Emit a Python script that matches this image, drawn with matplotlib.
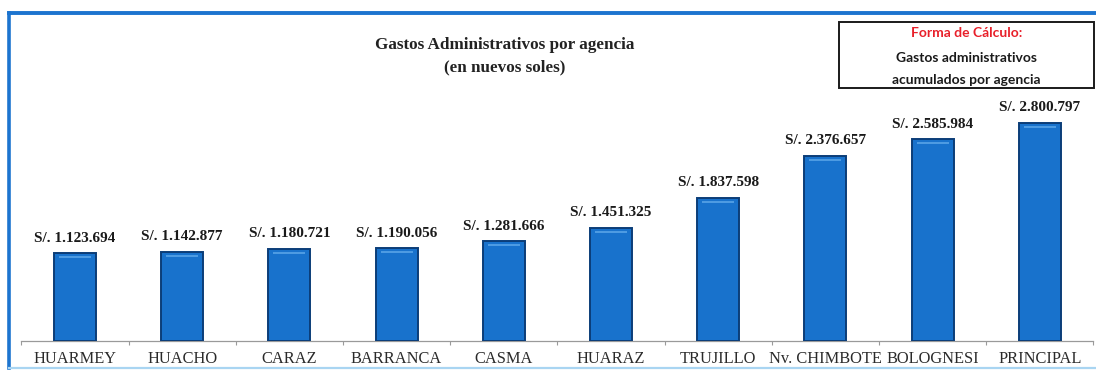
import matplotlib
matplotlib.use("Agg")
import matplotlib.pyplot as plt
import matplotlib.transforms as mtransforms
import numpy as np
from matplotlib.patches import Rectangle
from matplotlib.lines import Line2D

agencias = ["HUARMEY", "HUACHO", "CARAZ", "BARRANCA", "CASMA",
            "HUARAZ", "TRUJILLO", "Nv. CHIMBOTE", "BOLOGNESI", "PRINCIPAL"]
gastos = [1123694, 1142877, 1180721, 1190056, 1281666,
          1451325, 1837598, 2376657, 2585984, 2800797]

titulo = "Gastos Administrativos por agencia\n(en nuevos soles)"
nota_titulo = "Forma de Cálculo:"
nota_texto = "Gastos administrativos\nacumulados por agencia"

W, H, DPI = 1096, 370, 100
SERIF = "Liberation Serif"


def fmt_soles(v: int) -> str:
    return "S/. " + f"{v:,}".replace(",", ".")


fig = plt.figure(figsize=(W / DPI, H / DPI), dpi=DPI)
fig.patch.set_facecolor("white")

# axes placed in pixel terms: baseline at y=341, category pitch ~107 px
ax_left, ax_right = 21.4, 1093.4
ax_bottom, ax_top = 341, 15
ax = fig.add_axes([ax_left / W, (H - ax_bottom) / H,
                   (ax_right - ax_left) / W, (ax_bottom - ax_top) / H])
ax.set_facecolor("none")

x = np.arange(len(agencias))
valores = np.array(gastos, dtype=float)
ax.bar(x, valores, width=0.39, color="#1872cc", edgecolor="#0b3d78",
       linewidth=1.4, zorder=3)

# light strip near the top of each bar
strip = mtransforms.offset_copy(ax.transData, fig=fig, x=0, y=-4, units="dots")
ax.hlines(valores, x - 0.15, x + 0.15, colors="#4f9de3", linewidth=1.4,
          transform=strip, zorder=4)

for xi, v in zip(x, gastos):
    ax.annotate(fmt_soles(v), (xi, v), xytext=(0, 15), textcoords="offset pixels",
                ha="center", va="center", fontsize=11, fontweight="bold",
                family=SERIF, color="#1a1a1a")

ax.set_xlim(-0.5, len(agencias) - 0.5)
ax.set_ylim(0, 326 / 78 * 1e6)
ax.set_yticks([])
for side in ("left", "right", "top"):
    ax.spines[side].set_visible(False)
ax.spines["bottom"].set_color("#9a9a9a")
ax.spines["bottom"].set_linewidth(0.9)

ax.set_xticks(x)
ax.set_xticklabels(agencias, family=SERIF, fontsize=11.8, color="#2a2a2a")
ax.tick_params(axis="x", which="major", length=0, pad=7)
ax.set_xticks(np.arange(len(agencias) + 1) - 0.5, minor=True)
ax.tick_params(axis="x", which="minor", length=3, color="#9a9a9a", width=0.8)

fig.text(505 / W, 1 - 56 / H, titulo, ha="center", va="center",
         fontsize=12.3, fontweight="bold", family=SERIF, color="#222222",
         linespacing=1.5)

# note box at the top right
bx0, bx1, by0, by1 = 839, 1094, 22, 88
fig.add_artist(Rectangle((bx0 / W, 1 - by1 / H), (bx1 - bx0) / W, (by1 - by0) / H,
                         transform=fig.transFigure, facecolor="white",
                         edgecolor="#1a1a1a", linewidth=1.4))
cx = (bx0 + bx1) / 2 / W
fig.text(cx, 1 - 33 / H, nota_titulo, ha="center", va="center", fontsize=10,
         fontweight="bold", family="Lato", color="#e8202a")
fig.text(cx, 1 - 69 / H, nota_texto, ha="center", va="center", fontsize=10,
         fontweight="bold", family="Lato", color="#1a1a1a", linespacing=1.95)

# blue frame around the chart
fig.add_artist(Line2D([9 / W, 9 / W], [1 - 13 / H, 1 - 368 / H],
                      transform=fig.transFigure, color="#1c74cf", linewidth=2.6))
fig.add_artist(Line2D([9 / W, 1.0], [1 - 13 / H, 1 - 13 / H],
                      transform=fig.transFigure, color="#1c74cf", linewidth=2.8))
fig.add_artist(Line2D([9 / W, 1.0], [1 - 368 / H, 1 - 368 / H],
                      transform=fig.transFigure, color="#a9d5f2", linewidth=1.6))

fig.savefig("out.png", dpi=DPI)
